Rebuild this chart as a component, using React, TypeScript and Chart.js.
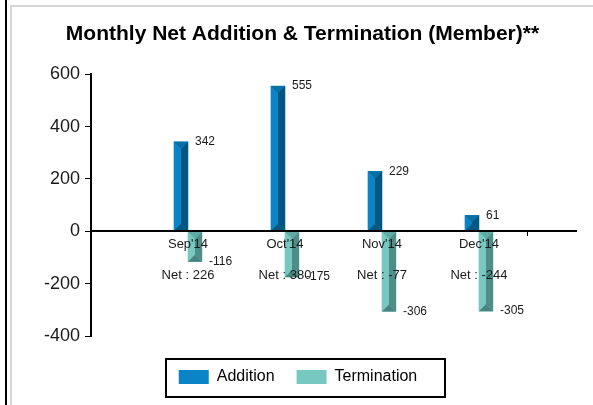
import React, { useEffect, useRef } from "react";
import { Chart, registerables } from "chart.js";

Chart.register(...registerables);

const months = ["Sep'14", "Oct'14", "Nov'14", "Dec'14"];
const additions = [342, 555, 229, 61];
const terminations = [-116, -175, -306, -305];
const yMin = -400;
const yMax = 600;
const yStep = 200;
const titleText = "Monthly Net Addition & Termination (Member)**";

const FONT = '"Liberation Sans", Arial, sans-serif';

const bevel = [
  { left: "#0a84c6", right: "#05567f", top: "#0a6fa3", bottom: "#06587f" },
  { left: "#76c8c0", right: "#4f8d87", top: "#62aba4", bottom: "#4a837d" },
];

export default function App() {
  const ref = useRef<HTMLCanvasElement | null>(null);

  useEffect(() => {
    if (!ref.current) return;
    const labels = ["", ...months, ""];
    const addData = [null, ...additions, null];
    const termData = [null, ...terminations, null];
    const nets = additions.map((a, i) => a + terminations[i]);

    const bevelPlugin = {
      id: "bevelBars",
      afterLayout(chart: any) {
        const lg = chart.legend;
        if (lg) {
          lg.top += 11;
          lg.bottom += 11;
          lg.left += 4;
          lg.right += 4;
        }
        const tb = chart.titleBlock;
        if (tb) {
          tb.right = chart.width;
          tb.left = 0;
        }
      },
      afterDatasetsDraw(chart: any) {
        const ctx = chart.ctx;
        chart.data.datasets.forEach((ds: any, di: number) => {
          const meta = chart.getDatasetMeta(di);
          const c = bevel[di];
          meta.data.forEach((el: any, i: number) => {
            const v = ds.data[i];
            if (v === null || v === undefined) return;
            const { x, y, base, width } = el.getProps(["x", "y", "base", "width"], true);
            const l = x - width / 2;
            const r = x + width / 2;
            const t = Math.min(y, base);
            const b = Math.max(y, base);
            const h = Math.min(width / 2, (b - t) / 2);
            const poly = (pts: number[][], col: string) => {
              ctx.beginPath();
              ctx.moveTo(pts[0][0], pts[0][1]);
              for (let k = 1; k < pts.length; k++) ctx.lineTo(pts[k][0], pts[k][1]);
              ctx.closePath();
              ctx.fillStyle = col;
              ctx.fill();
            };
            ctx.save();
            poly([[l, t], [x, t + h], [x, b - h], [l, b]], c.left);
            poly([[r, t], [x, t + h], [x, b - h], [r, b]], c.right);
            poly([[l, t], [r, t], [x, t + h]], c.top);
            poly([[l, b], [r, b], [x, b - h]], c.bottom);
            ctx.fillStyle = "#1a1a1a";
            ctx.font = "12px " + FONT;
            ctx.textAlign = "left";
            ctx.textBaseline = "middle";
            ctx.fillText(String(v), r + 7, y);
            ctx.restore();
          });
        });
      },
      afterDraw(chart: any) {
        const lg = chart.legend;
        if (!lg || !lg.legendHitBoxes || !lg.legendHitBoxes.length) return;
        const hb = lg.legendHitBoxes;
        const first = hb[0];
        const last = hb[hb.length - 1];
        const cy = first.top + first.height / 2;
        const ctx = chart.ctx;
        ctx.save();
        ctx.strokeStyle = "#000";
        ctx.lineWidth = 2;
        const x0 = Math.round(first.left - 13);
        const x1 = Math.round(last.left + last.width + 28);
        const y0 = Math.round(cy - 18);
        const y1 = Math.round(cy + 20);
        ctx.strokeRect(x0, y0, x1 - x0, y1 - y0);
        ctx.restore();
      },
    };

    const chart = new Chart(ref.current, {
      type: "bar",
      data: {
        labels,
        datasets: [
          {
            label: "Addition",
            data: addData,
            backgroundColor: bevel[0].left,
            borderWidth: 0,
            barThickness: 14,
          },
          {
            label: "Termination",
            data: termData,
            backgroundColor: bevel[1].left,
            borderWidth: 0,
            barThickness: 14,
          },
        ],
      } as any,
      options: {
        responsive: false,
        animation: false,
        devicePixelRatio: 1,
        layout: { padding: { left: 0, right: 17, top: 0, bottom: 21 } },
        scales: {
          x: {
            type: "category",
            offset: false,
            position: { y: 0 } as any,
            grid: {
              display: true,
              drawOnChartArea: false,
              drawTicks: true,
              tickLength: 4,
              z: 1,
              color: (c: any) => (c.index === labels.length - 1 ? "#000" : "rgba(0,0,0,0)"),
            },
            border: { display: true, color: "#000", width: 2, z: 1 },
            ticks: {
              z: 1,
              autoSkip: false,
              maxRotation: 0,
              padding: 1,
              color: "#1a1a1a",
              font: { family: FONT, size: 13, lineHeight: 1.2 },
              callback: (_v: any, i: number) => {
                if (i < 1 || i > months.length) return "";
                return [months[i - 1], "", "Net : " + nets[i - 1]];
              },
            },
          },
          y: {
            min: yMin,
            max: yMax,
            afterFit: (s: any) => {
              s.width = 79;
            },
            grid: {
              display: true,
              drawOnChartArea: false,
              drawTicks: true,
              tickLength: 6,
              color: "#000",
            },
            border: { display: true, color: "#000", width: 2 },
            ticks: {
              stepSize: yStep,
              padding: 5,
              color: "#1a1a1a",
              font: { family: FONT, size: 18 },
            },
          },
        },
        plugins: {
          title: {
            display: true,
            text: titleText,
            color: "#000",
            font: { family: FONT, size: 21, weight: "bold", lineHeight: 1.2 },
            padding: { top: 15, bottom: 27 },
          },
          legend: {
            display: true,
            position: "bottom",
            labels: {
              boxWidth: 30,
              boxHeight: 14,
              padding: 22,
              color: "#000",
              font: { family: FONT, size: 16 },
            },
          },
          tooltip: { enabled: false },
        },
      } as any,
      plugins: [bevelPlugin],
    });
    return () => chart.destroy();
  }, []);

  return (
    <div
      style={{
        position: "fixed",
        left: 0,
        top: 0,
        width: 593,
        height: 405,
        background: "#fff",
        overflow: "hidden",
      }}
    >
      <div style={{ position: "absolute", left: 5, top: 0, width: 2, height: 405, background: "#000" }} />
      <div style={{ position: "absolute", left: 10, top: 5, width: 2, height: 400, background: "#d6d6d6" }} />
      <div style={{ position: "absolute", left: 10, top: 5, width: 583, height: 2, background: "#d6d6d6" }} />
      <canvas
        ref={ref}
        width={581}
        height={398}
        style={{ position: "absolute", left: 12, top: 7, width: 581, height: 398 }}
      />
    </div>
  );
}
